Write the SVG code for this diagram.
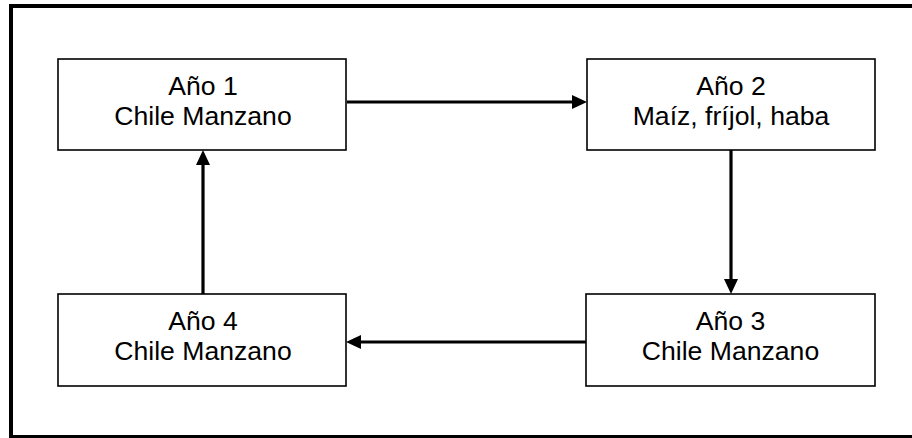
<svg xmlns="http://www.w3.org/2000/svg" width="912" height="438" viewBox="0 0 912 438">
<style>
.box{fill:#fff;stroke:#000;stroke-width:1.6}
.lbl{font-family:"Liberation Sans",Arial,sans-serif;font-size:26.6px;fill:#000;text-anchor:middle}
.con{stroke:#000;stroke-width:3.2;fill:none}
.head{fill:#000}
</style>
<rect x="0" y="0" width="912" height="438" fill="#fff"/>
<rect x="11" y="6" width="905" height="431" fill="none" stroke="#000" stroke-width="4"/>
<g id="connectors">
<line class="con" x1="347" y1="102" x2="574" y2="102"/>
<polygon class="head" points="587,102 572,95 572,109"/>
<line class="con" x1="731" y1="150" x2="731" y2="281"/>
<polygon class="head" points="731,294 724,279 738,279"/>
<line class="con" x1="586" y1="342" x2="359" y2="342"/>
<polygon class="head" points="346,342 361,335 361,349"/>
<line class="con" x1="203" y1="294" x2="203" y2="163"/>
<polygon class="head" points="203,150 196,165 210,165"/>
</g>
<g id="n1">
<rect class="box" x="58" y="59" width="288" height="91"/>
<text class="lbl" x="203" y="94.5">Año 1</text>
<text class="lbl" x="203" y="124.5">Chile Manzano</text>
</g>
<g id="n2">
<rect class="box" x="587" y="59" width="288" height="91"/>
<text class="lbl" x="731" y="94.5">Año 2</text>
<text class="lbl" x="731" y="124.5">Maíz, fríjol, haba</text>
</g>
<g id="n3">
<rect class="box" x="586" y="294" width="289" height="92"/>
<text class="lbl" x="730.5" y="330">Año 3</text>
<text class="lbl" x="730.5" y="359.5">Chile Manzano</text>
</g>
<g id="n4">
<rect class="box" x="58" y="294" width="288" height="92"/>
<text class="lbl" x="203" y="330">Año 4</text>
<text class="lbl" x="203" y="359.5">Chile Manzano</text>
</g>
</svg>
